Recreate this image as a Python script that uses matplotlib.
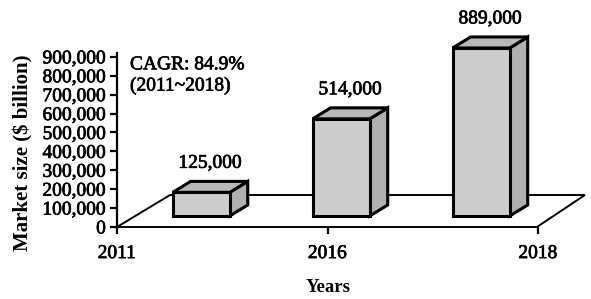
import numpy as np
from matplotlib import pyplot as plt
from matplotlib.patches import Polygon
import matplotlib.patheffects as pe

years = ['2011', '2016', '2018']
values = [125000, 514000, 889000]
value_labels = ['125,000', '514,000', '889,000']
yticks = list(range(0, 900001, 100000))
ytick_labels = ['0' if v == 0 else f'{v:,}' for v in yticks]

plt.rcParams['font.family'] = ['Liberation Serif', 'DejaVu Serif']
heavy = [pe.withStroke(linewidth=0.5, foreground='black')]

fig = plt.figure(figsize=(5.91, 2.99), dpi=100)
ax = fig.add_axes([117/591, 1-227/299, 473/591, 174/299])
ax.set_xlim(0, 2.247)
ax.set_ylim(0, 920600)

# floor of the pseudo-3D box
floor = Polygon([(0, 0), (1.995, 0), (2.223, 169300), (0.252, 169300)],
                closed=True, facecolor='white', edgecolor='black', lw=1.4,
                clip_on=False, zorder=1)
ax.add_patch(floor)

bar_x = [0.40, 1.065, 1.73]
w = 0.271
base = 58200
dx, dy = 0.0855, 58200
for xc, v, lab in zip(bar_x, values, value_labels):
    x0, x1 = xc - w/2, xc + w/2
    y0, y1 = base, base + v
    side = Polygon([(x1, y0), (x1 + dx, y0 + dy), (x1 + dx, y1 + dy), (x1, y1)],
                   facecolor='#b0b0b0', edgecolor='black', lw=2.2, clip_on=False,
                   joinstyle='miter', zorder=3)
    top = Polygon([(x0, y1), (x1, y1), (x1 + dx, y1 + dy), (x0 + dx, y1 + dy)],
                  facecolor='#b8b8b8', edgecolor='black', lw=2.2, clip_on=False,
                  joinstyle='miter', zorder=3)
    front = Polygon([(x0, y0), (x1, y0), (x1, y1), (x0, y1)],
                    facecolor='#cccccc', edgecolor='black', lw=2.2, clip_on=False,
                    joinstyle='miter', zorder=4)
    for p in (side, top, front):
        ax.add_patch(p)
    ax.annotate(lab, (xc + dx/2, y1 + dy), xytext=(0, 13), textcoords='offset points',
                ha='center', va='center', fontsize=14, annotation_clip=False,
                path_effects=heavy)

ax.text(0.0275, 0.871, 'CAGR: 84.9%\n(2011~2018)', transform=ax.transAxes,
        ha='left', va='center', fontsize=14, linespacing=1.3, path_effects=heavy)

for s in ['top', 'right', 'bottom']:
    ax.spines[s].set_visible(False)
ax.spines['left'].set_linewidth(1.6)

ax.set_yticks(yticks)
ax.set_yticklabels(ytick_labels, fontsize=14)
ax.set_xticks([0, 1, 2])
ax.set_xticklabels(years, fontsize=14)
ax.tick_params(axis='y', direction='out', length=5, width=1.6, pad=3)
ax.tick_params(axis='x', direction='out', length=5, width=1.6, pad=8)
for t in ax.get_xticklabels() + ax.get_yticklabels():
    t.set_path_effects(heavy)

ax.set_ylabel('Market size ($ billion)', fontsize=15, fontweight='bold')
ax.yaxis.label.set_va('center')
ax.yaxis.set_label_coords(-0.197, 0.425)
ax.set_xlabel('Years', fontsize=13.5, fontweight='bold')
ax.xaxis.label.set_va('center')
ax.xaxis.set_label_coords(0.446, -0.35)

fig.savefig('out.png', dpi=100)
